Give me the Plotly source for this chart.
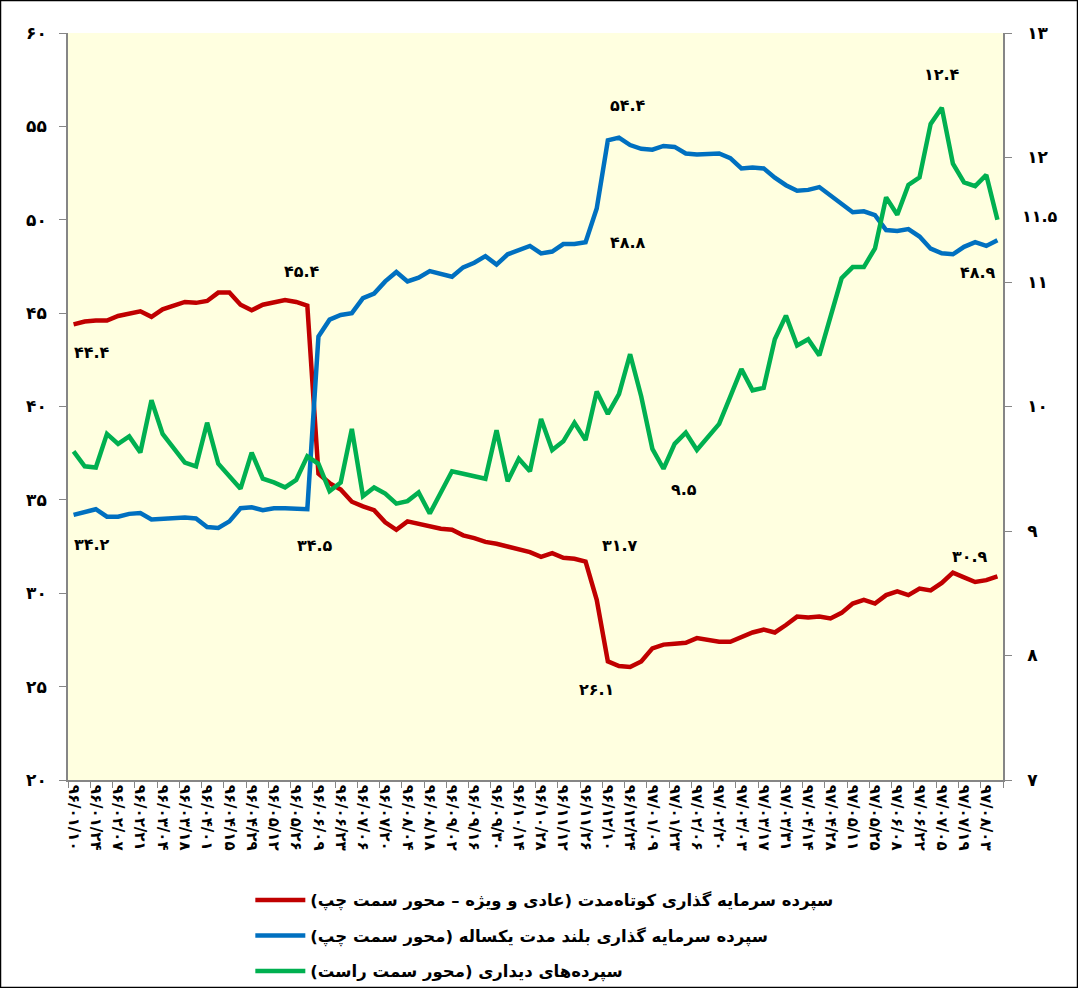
import plotly.graph_objects as go

# Persian digits for all visible numbers
FA = str.maketrans("0123456789", "۰۱۲۳۴۵۶۷۸۹")


def fa_num(s):
    return str(s).translate(FA)


# tick labels (every second weekly observation)
tick_labels = ["96/01/10", "96/01/24", "96/02/07", "96/02/21", "96/03/04", "96/03/18",
               "96/04/01", "96/04/15", "96/04/29", "96/05/12", "96/05/26", "96/06/09",
               "96/06/23", "96/07/06", "96/07/20", "96/08/04", "96/08/18", "96/09/02",
               "96/09/16", "96/09/30", "96/10/14", "96/10/28", "96/11/12", "96/11/26",
               "96/12/10", "96/12/24", "97/01/09", "97/01/23", "97/02/06", "97/02/20",
               "97/03/03", "97/03/17", "97/03/31", "97/04/14", "97/04/28", "97/05/11",
               "97/05/25", "97/06/08", "97/06/22", "97/07/05", "97/07/19", "97/08/03"]

# short-term investment deposits (left axis)
short_term = [44.4, 44.55, 44.6, 44.6, 44.85, 44.95, 45.1, 44.8, 45.2, 45.4,
              45.6, 45.55, 45.65, 46.1, 46.1, 45.45, 45.15, 45.45, 45.55, 45.7,
              45.6, 45.4, 36.4, 35.9, 35.55, 34.9, 34.65, 34.45, 33.8, 33.4,
              33.85, 33.7, 33.6, 33.45, 33.4, 33.1, 32.95, 32.75, 32.65, 32.5,
              32.3, 32.2, 31.95, 32.15, 31.9, 31.85, 31.7, 29.65, 26.35, 26.1,
              26.05, 26.35, 27.05, 27.25, 27.3, 27.35, 27.6, 27.5, 27.4, 27.4,
              27.65, 27.9, 28.05, 27.9, 28.3, 28.75, 28.7, 28.75, 28.65, 28.95,
              29.45, 29.65, 29.45, 29.9, 30.1, 29.9, 30.25, 30.15, 30.55, 31.1,
              30.85, 30.6, 30.7, 30.9]

# one-year long-term investment deposits (left axis)
long_term = [34.2, 34.35, 34.5, 34.1, 34.1, 34.25, 34.3, 33.95, 34.0, 34.0,
             34.05, 34.0, 33.55, 33.5, 33.85, 34.55, 34.6, 34.45, 34.55, 34.55,
             34.55, 34.5, 43.75, 44.65, 44.9, 45.0, 45.8, 46.05, 46.7, 47.2,
             46.7, 46.9, 47.25, 47.1, 46.95, 47.45, 47.7, 48.05, 47.6, 48.15,
             48.4, 48.6, 48.2, 48.3, 48.7, 48.7, 48.8, 50.6, 54.25, 54.4,
             54.0, 53.8, 53.75, 53.95, 53.9, 53.55, 53.5, 53.55, 53.55, 53.3,
             52.75, 52.8, 52.75, 52.25, 51.85, 51.55, 51.6, 51.75, 51.3, 50.8,
             50.4, 50.45, 50.25, 49.45, 49.4, 49.5, 49.1, 48.45, 48.2, 48.15,
             48.55, 48.8, 48.6, 48.9]

# sight deposits (right axis)
sight = [9.64, 9.52, 9.51, 9.78, 9.7, 9.76, 9.63, 10.05, 9.78, 9.66,
         9.55, 9.52, 9.87, 9.54, 9.44, 9.34, 9.63, 9.42, 9.39, 9.35,
         9.41, 9.6, 9.54, 9.32, 9.39, 9.82, 9.28, 9.35, 9.3, 9.22,
         9.24, 9.31, 9.14, 9.32, 9.48, 9.46, 9.44, 9.42, 9.81, 9.4,
         9.58, 9.48, 9.9, 9.65, 9.72, 9.87, 9.73, 10.12, 9.94, 10.1,
         10.42, 10.08, 9.66, 9.5, 9.7, 9.79, 9.65, 9.75, 9.86, 10.08,
         10.3, 10.13, 10.15, 10.54, 10.73, 10.49, 10.54, 10.41, 10.72, 11.03,
         11.12, 11.12, 11.27, 11.68, 11.54, 11.78, 11.84, 12.27, 12.4, 11.95,
         11.8, 11.77, 11.86, 11.5]

left_ticks = [20, 25, 30, 35, 40, 45, 50, 55, 60]
right_ticks = [7, 8, 9, 10, 11, 12, 13]

RLM = "\u200f"
LRM = "\u200e"
names = {
    "short": "سپرده سرمایه گذاری کوتاه‌مدت (عادی و ویژه – محور سمت چپ)" + RLM,
    "long": "سپرده سرمایه گذاری بلند مدت یکساله (محور سمت چپ)" + RLM,
    "sight": "سپرده‌های دیداری (محور سمت راست)" + RLM,
}
series = {"short": short_term, "long": long_term, "sight": sight}
colors = {"short": "#C00000", "long": "#0070C0", "sight": "#00B050"}
axis_of = {"short": "y", "long": "y", "sight": "y2"}

FONT = "DejaVu Sans"
x = list(range(len(short_term)))

fig = go.Figure()
for key in ["short", "long", "sight"]:
    fig.add_trace(go.Scatter(x=x, y=series[key], mode="lines", name=names[key],
                             line=dict(color=colors[key], width=4.5),
                             yaxis=axis_of[key], legendgroup=key))

# data labels: (series, point index, xshift, yshift)
labels = [("short", 0, 18, -28), ("long", 0, 18, -30),
          ("short", 21, -5, 34), ("long", 21, 8, -36),
          ("long", 49, 9, 32), ("long", 46, 42, 0),
          ("short", 46, 34, 16), ("short", 49, -22, -23),
          ("sight", 53, 20, -21), ("sight", 78, 0, 33),
          ("sight", 83, 43, 3), ("long", 83, -19, -32),
          ("short", 83, -27, 20)]
for key, i, dx, dy in labels:
    fig.add_annotation(x=x[i], y=series[key][i], xref="x", yref=axis_of[key],
                       text=fa_num(f"{series[key][i]:.1f}"), showarrow=False,
                       xshift=dx, yshift=dy,
                       font=dict(family=FONT, size=16, color="black", weight="bold"))

# outer chart border
fig.add_shape(type="rect", xref="paper", yref="paper",
              x0=-0.0722, x1=1.0797, y0=-0.2778, y1=1.0435,
              line=dict(color="black", width=1.5))

fig.update_layout(
    width=1078, height=988,
    margin=dict(l=68, r=75, t=33, b=208, autoexpand=False),
    paper_bgcolor="white", plot_bgcolor="#FFFFE0",
    font=dict(family=FONT, color="black"),
    xaxis=dict(range=[-0.5, len(x) - 0.5], tickmode="array", automargin=False,
               tickvals=x[::2], ticktext=[LRM + fa_num(t) for t in tick_labels],
               tickangle=90, ticks="", showgrid=False, zeroline=False,
               showline=True, linecolor="#868686", linewidth=1.5,
               tickfont=dict(family=FONT, size=15, weight="bold"),
               minor=dict(tick0=-0.5, dtick=2, ticks="outside", ticklen=6,
                          tickcolor="#868686", showgrid=False)),
    yaxis=dict(range=[20, 60], tickmode="array", tickvals=left_ticks, automargin=False,
               ticktext=[fa_num(v) for v in left_ticks], showgrid=False,
               zeroline=False, showline=True, linecolor="#868686", linewidth=1.5,
               ticks="outside", ticklen=7, tickcolor="#868686",
               ticklabelstandoff=9,
               tickfont=dict(family=FONT, size=17, weight="bold")),
    yaxis2=dict(range=[7, 13], tickmode="array", tickvals=right_ticks, automargin=False,
                ticktext=[fa_num(v) for v in right_ticks], overlaying="y",
                side="right", showgrid=False, zeroline=False, showline=True,
                linecolor="#868686", linewidth=1.5, ticks="outside", ticklen=7,
                tickcolor="#868686", ticklabelstandoff=12,
                tickfont=dict(family=FONT, size=17, weight="bold")),
    legend=dict(x=0.195, y=-0.1376, xanchor="left", yanchor="top",
                orientation="v", traceorder="grouped", tracegroupgap=11,
                itemwidth=50, bgcolor="rgba(0,0,0,0)",
                font=dict(family=FONT, size=16.5, weight="bold")),
)

# the page body has a default 8px margin; remove it so the figure fills the window
fig.write_html("out.html", config={"displayModeBar": False},
               post_script="document.body.style.margin='0';")
